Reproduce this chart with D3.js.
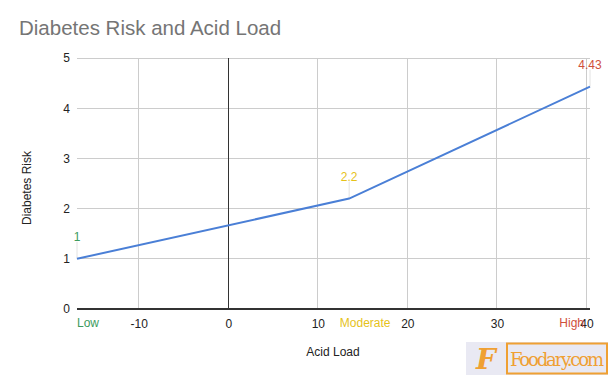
<!DOCTYPE html>
<html><head><meta charset="utf-8">
<script src="https://cdn.jsdelivr.net/npm/d3@7"></script>
<style>body{margin:0;background:#fff}svg{display:block;font-family:Arial,"Liberation Sans",sans-serif}</style>
</head><body><svg id="c" width="610" height="377"></svg>
<script>
const categories = ["Low", "Moderate", "High"];
const acidLoad = [-16.9, 13.5, 40.4];
const risk = [1, 2.2, 4.43];
const valueLabels = ["1", "2.2", "4.43"];
const labelColors = ["#3d9b5e", "#e6c21a", "#cf4f3a"];
const xTicks = [-10, 0, 10, 20, 30, 40];
const yTicks = [0, 1, 2, 3, 4, 5];

const svg = d3.select("#c");
const m = {l: 77, r: 590, t: 58, b: 309};
const x = d3.scaleLinear().domain([-16.9, 40.4]).range([m.l, m.r]);
const y = d3.scaleLinear().domain([0, 5]).range([m.b, m.t]);
const fmt = d => String(d);

svg.append("text").attr("x", 19).attr("y", 35).attr("font-size", 20.5).attr("fill", "#757575").text("Diabetes Risk and Acid Load");

// grid
svg.append("g").selectAll("line").data(yTicks.filter(d => d > 0)).join("line")
  .attr("x1", m.l).attr("x2", m.r).attr("y1", d => y(d)).attr("y2", d => y(d))
  .attr("stroke", "#cccccc").attr("stroke-width", 1).attr("shape-rendering", "crispEdges");
svg.append("g").selectAll("line").data(xTicks.filter(d => d !== 0)).join("line")
  .attr("x1", d => x(d)).attr("x2", d => x(d)).attr("y1", m.t).attr("y2", m.b)
  .attr("stroke", "#cccccc").attr("stroke-width", 1).attr("shape-rendering", "crispEdges");
// zero lines
svg.append("line").attr("x1", x(0)).attr("x2", x(0)).attr("y1", m.t).attr("y2", m.b)
  .attr("stroke", "#333").attr("stroke-width", 1).attr("shape-rendering", "crispEdges");
svg.append("line").attr("x1", m.l).attr("x2", m.r).attr("y1", y(0)).attr("y2", y(0))
  .attr("stroke", "#333").attr("stroke-width", 1.2).attr("shape-rendering", "crispEdges");

// axes
const yAxis = d3.axisLeft(y).tickValues(yTicks).tickSize(0).tickPadding(7).tickFormat(fmt);
const gy = svg.append("g").attr("transform", `translate(${m.l},0)`).call(yAxis);
gy.select(".domain").remove();
gy.selectAll("text").attr("font-size", 12).attr("fill", "#222").attr("font-family", "Arial,'Liberation Sans',sans-serif");

const xAxis = d3.axisBottom(x).tickValues(xTicks).tickSize(0).tickPadding(10).tickFormat(fmt);
const gx = svg.append("g").attr("transform", `translate(0,${m.b})`).call(xAxis);
gx.select(".domain").remove();
gx.selectAll("text").attr("font-size", 12).attr("fill", "#222").attr("font-family", "Arial,'Liberation Sans',sans-serif");

// axis titles
svg.append("text").attr("x", 333).attr("y", 356).attr("text-anchor", "middle").attr("font-size", 12).attr("fill", "#222").text("Acid Load");
svg.append("text").attr("transform", "translate(31,188) rotate(-90)").attr("text-anchor", "middle").attr("font-size", 12).attr("fill", "#222").text("Diabetes Risk");

const pts = acidLoad.map((a, i) => ({a, r: risk[i], lab: valueLabels[i], c: labelColors[i], cat: categories[i]}));
// leader lines
svg.append("g").selectAll("line").data(pts).join("line")
  .attr("x1", d => x(d.a)).attr("x2", d => x(d.a))
  .attr("y1", d => y(d.r) - 17).attr("y2", d => y(d.r))
  .attr("stroke", "#e2e2e2").attr("stroke-width", 1);

// line
const line = d3.line().x(d => x(d.a)).y(d => y(d.r));
svg.append("path").datum(pts).attr("d", line).attr("fill", "none").attr("stroke", "#4a7fd6").attr("stroke-width", 2);

// value labels
svg.append("g").selectAll("text").data(pts).join("text")
  .attr("x", d => x(d.a)).attr("y", d => y(d.r) - 18)
  .attr("text-anchor", "middle").attr("font-size", 12).attr("fill", d => d.c).text(d => d.lab);

// category labels
const anchors = ["start", "middle", "end"];
const offs = [0, 16, -6];
svg.append("g").selectAll("text").data(pts).join("text")
  .attr("x", (d, i) => x(d.a) + offs[i]).attr("y", m.b + 18)
  .attr("text-anchor", (d, i) => anchors[i]).attr("font-size", 12).attr("fill", d => d.c).text(d => d.cat);

// logo
const lg = svg.append("g");
lg.append("rect").attr("x", 466).attr("y", 342).attr("width", 142).attr("height", 33).attr("fill", "#e9e9f3");
lg.append("text").attr("x", 486).attr("y", 369).attr("text-anchor", "middle").attr("font-size", 28).attr("font-style", "italic").attr("font-weight", "bold").attr("font-family", "'DejaVu Serif',serif").attr("fill", "#efa033").text("F");
lg.append("rect").attr("x", 507).attr("y", 343.5).attr("width", 100).attr("height", 30).attr("fill", "none").attr("stroke", "#efa033").attr("stroke-width", 2);
lg.append("text").attr("x", 510).attr("y", 366).attr("font-size", 18).attr("font-family", "'DejaVu Serif',serif").attr("fill", "#efa033").text("Foodary.com").attr("textLength", 94);
</script></body></html>
